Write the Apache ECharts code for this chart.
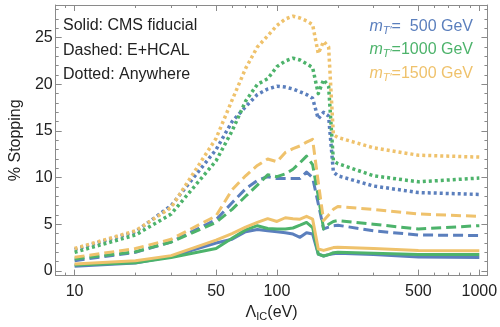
<!DOCTYPE html>
<html>
<head>
<meta charset="utf-8">
<script src="https://cdn.jsdelivr.net/npm/echarts@6/dist/echarts.min.js"></script>
<style>
	html, body { margin: 0; padding: 0; background: #fff; }
	#chart { width: 500px; height: 327px; }
</style>
</head>
<body>
<div id="chart"></div>
<script>
// Lambda_IC sample points (eV)
var lambdaEV = [10, 20, 30, 50, 60, 70, 80, 90, 100, 110, 120, 130, 140, 150, 160, 170, 180, 190, 200, 300, 500, 1000];

// % stopping, mT' = 500 GeV
var solid500  = [0.5, 0.85, 1.55, 3.0, 3.4, 4.2, 4.45, 4.3, 4.2, 4.1, 3.95, 3.6, 4.1, 3.95, 1.8, 1.6, 1.75, 1.85, 1.9, 1.75, 1.5, 1.45];
var dashed500 = [1.1, 2.0, 3.1, 5.5, 7.3, 8.8, 9.7, 10.1, 9.9, 9.9, 9.9, 9.9, 10.6, 10.0, 7.2, 4.5, 4.7, 4.85, 4.9, 4.3, 3.85, 3.8];
var dotted500 = [2.3, 4.2, 7.0, 13.0, 16.0, 17.6, 18.9, 19.5, 19.8, 19.7, 19.5, 19.2, 18.9, 18.5, 16.3, 17.0, 16.6, 10.6, 10.2, 9.1, 8.4, 8.2];
// mT' = 1000 GeV
var solid1000  = [0.64, 0.88, 1.45, 2.4, 3.5, 4.4, 4.85, 4.55, 4.5, 4.5, 4.6, 4.9, 5.2, 4.65, 1.8, 1.6, 1.75, 1.95, 2.0, 1.9, 1.75, 1.75];
var dashed1000 = [1.28, 2.06, 3.1, 5.2, 6.6, 8.0, 9.2, 10.3, 10.1, 10.4, 10.9, 11.6, 12.3, 11.4, 8.0, 4.5, 5.0, 5.3, 5.4, 5.0, 4.5, 4.85];
var dotted1000 = [2.0, 3.85, 6.1, 11.8, 15.0, 18.2, 20.0, 20.6, 21.9, 22.5, 22.8, 22.6, 22.2, 21.8, 19.0, 20.5, 19.8, 11.8, 11.5, 10.2, 9.55, 9.95];
// mT' = 1500 GeV
var solid1500  = [0.75, 1.1, 1.64, 3.3, 4.0, 4.7, 5.2, 5.6, 5.3, 5.7, 5.6, 5.55, 5.85, 5.55, 2.35, 2.2, 2.35, 2.5, 2.55, 2.4, 2.2, 2.15];
var dashed1500 = [1.46, 2.4, 3.4, 5.9, 8.7, 10.2, 11.3, 12.0, 11.7, 12.7, 13.1, 13.4, 13.8, 14.1, 9.5, 5.4, 6.0, 6.6, 6.9, 6.6, 6.1, 5.85];
var dotted1500 = [2.4, 4.3, 6.8, 14.2, 18.3, 21.7, 24.0, 25.2, 26.3, 27.0, 27.3, 27.1, 26.8, 26.4, 23.3, 24.6, 24.0, 14.6, 14.3, 13.2, 12.4, 12.2];

// ticks (eV and %)
var xMajor = [10, 50, 100, 500, 1000];
var xMinor = [9, 20, 30, 40, 60, 70, 80, 90, 200, 300, 400, 600, 700, 800, 900];
var yMajor = [0, 5, 10, 15, 20, 25];
var yMinor = [1, 2, 3, 4, 6, 7, 8, 9, 11, 12, 13, 14, 16, 17, 18, 19, 21, 22, 23, 24, 26, 27, 28];

var cBlue = '#5b7fbd', cGreen = '#4db36b', cOrange = '#efc26c';
var frame = '#8a8a8a';
var fontName = '"Liberation Sans", Arial, sans-serif';

// the x axis is drawn in log10(eV)
var lg = function(v){ return Math.log10(v); };

function pairs(ys){
	return lambdaEV.map(function(x, i){ return [lg(x), ys[i]]; });
}

function line(name, ys, color, kind){
	var ls = { color: color, width: 3, cap: 'butt', join: 'round' };
	if(kind == 'dashed'){ ls.type = [10, 5]; }
	if(kind == 'dotted'){ ls.type = [3, 3]; ls.width = 3.5; }
	return {
		name: name,
		type: 'line',
		xAxisIndex: 0,
		yAxisIndex: 0,
		symbol: 'none',
		silent: true,
		lineStyle: ls,
		data: pairs(ys)
	};
}

function xAx(pos, ticks, len, labels){
	return {
		type: 'value',
		min: 0.9066,
		max: 3.0401,
		position: pos,
		axisLine: { show: labels, onZero: false, lineStyle: { color: frame, width: 1 } },
		axisTick: { show: true, inside: true, length: len, customValues: ticks.map(lg), lineStyle: { color: frame } },
		axisLabel: labels ? { customValues: xMajor.map(lg), color: '#222', fontSize: 16, fontFamily: fontName, margin: 8,
			formatter: function(v){ return String(Math.round(Math.pow(10, v))); } } : { show: false },
		splitLine: { show: false }
	};
}

function yAx(pos, ticks, len, labels){
	return {
		type: 'value',
		min: -0.5,
		max: 28.5,
		position: pos,
		axisLine: { show: labels, onZero: false, lineStyle: { color: frame, width: 1 } },
		axisTick: { show: true, inside: true, length: len, customValues: ticks, lineStyle: { color: frame } },
		axisLabel: labels ? { customValues: yMajor, color: '#222', fontSize: 16, fontFamily: fontName, margin: 3 } : { show: false },
		splitLine: { show: false }
	};
}

function drawChart(){
	var myChart = echarts.init(document.getElementById('chart'), null, { renderer: 'canvas' });

	var xAxes = [xAx('bottom', xMajor, 6, true), xAx('bottom', xMinor, 3, false),
		xAx('top', xMajor, 6, true), xAx('top', xMinor, 3, false)];
	xAxes[2].axisLabel = { show: false };
	xAxes[0].name = '{n|Λ}{s|IC}{n|(eV)}';
	xAxes[0].nameLocation = 'middle';
	xAxes[0].nameGap = 26;
	xAxes[0].nameTextStyle = {
		color: '#222', fontFamily: fontName,
		rich: {
			n: { fontSize: 16, fontFamily: fontName, color: '#222' },
			s: { fontSize: 11, fontFamily: fontName, color: '#222', padding: [8, 0, 0, 0] }
		}
	};

	var yAxes = [yAx('left', yMajor, 6, true), yAx('left', yMinor, 3, false),
		yAx('right', yMajor, 6, true), yAx('right', yMinor, 3, false)];
	yAxes[2].axisLabel = { show: false };
	yAxes[0].name = '% Stopping';
	yAxes[0].nameLocation = 'middle';
	yAxes[0].nameGap = 28;
	yAxes[0].nameTextStyle = { color: '#222', fontSize: 16, fontFamily: fontName };

	var mRich = function(color){
		return {
			m: { fontSize: 16, fontStyle: 'italic', fontFamily: fontName, fill: color },
			s: { fontSize: 11, fontStyle: 'italic', fontFamily: fontName, fill: color, padding: [8, 0, 0, 0] },
			t: { fontSize: 16, fontFamily: fontName, fill: color }
		};
	};

	var option = {
		animation: false,
		grid: { left: 49, right: 10, top: 5, bottom: 50, containLabel: false },
		xAxis: xAxes,
		yAxis: yAxes,
		graphic: [
			{ type: 'text', x: 63, y: 26, style: { text: 'Solid: CMS fiducial', font: '16px ' + fontName, fill: '#222', verticalAlign: 'middle' } },
			{ type: 'text', x: 63, y: 51, style: { text: 'Dashed: E+HCAL', font: '16px ' + fontName, fill: '#222', verticalAlign: 'middle' } },
			{ type: 'text', x: 63, y: 75, style: { text: 'Dotted: Anywhere', font: '16px ' + fontName, fill: '#222', verticalAlign: 'middle' } },
			{ type: 'text', x: 473, y: 27, style: { text: '{m|m}{s|T′}{t|=  500 GeV}', rich: mRich(cBlue), align: 'right', verticalAlign: 'middle' } },
			{ type: 'text', x: 473, y: 50, style: { text: '{m|m}{s|T′}{t|=1000 GeV}', rich: mRich(cGreen), align: 'right', verticalAlign: 'middle' } },
			{ type: 'text', x: 473, y: 74, style: { text: '{m|m}{s|T′}{t|=1500 GeV}', rich: mRich(cOrange), align: 'right', verticalAlign: 'middle' } }
		],
		series: [
			line('dotted500', dotted500, cBlue, 'dotted'),
			line('dotted1000', dotted1000, cGreen, 'dotted'),
			line('dotted1500', dotted1500, cOrange, 'dotted'),
			line('dashed500', dashed500, cBlue, 'dashed'),
			line('dashed1000', dashed1000, cGreen, 'dashed'),
			line('dashed1500', dashed1500, cOrange, 'dashed'),
			line('solid500', solid500, cBlue, 'solid'),
			line('solid1000', solid1000, cGreen, 'solid'),
			line('solid1500', solid1500, cOrange, 'solid')
		]
	};

	myChart.setOption(option);
	window.addEventListener("resize", function(){
		myChart.resize();
	});
}

drawChart();
</script>
</body>
</html>
